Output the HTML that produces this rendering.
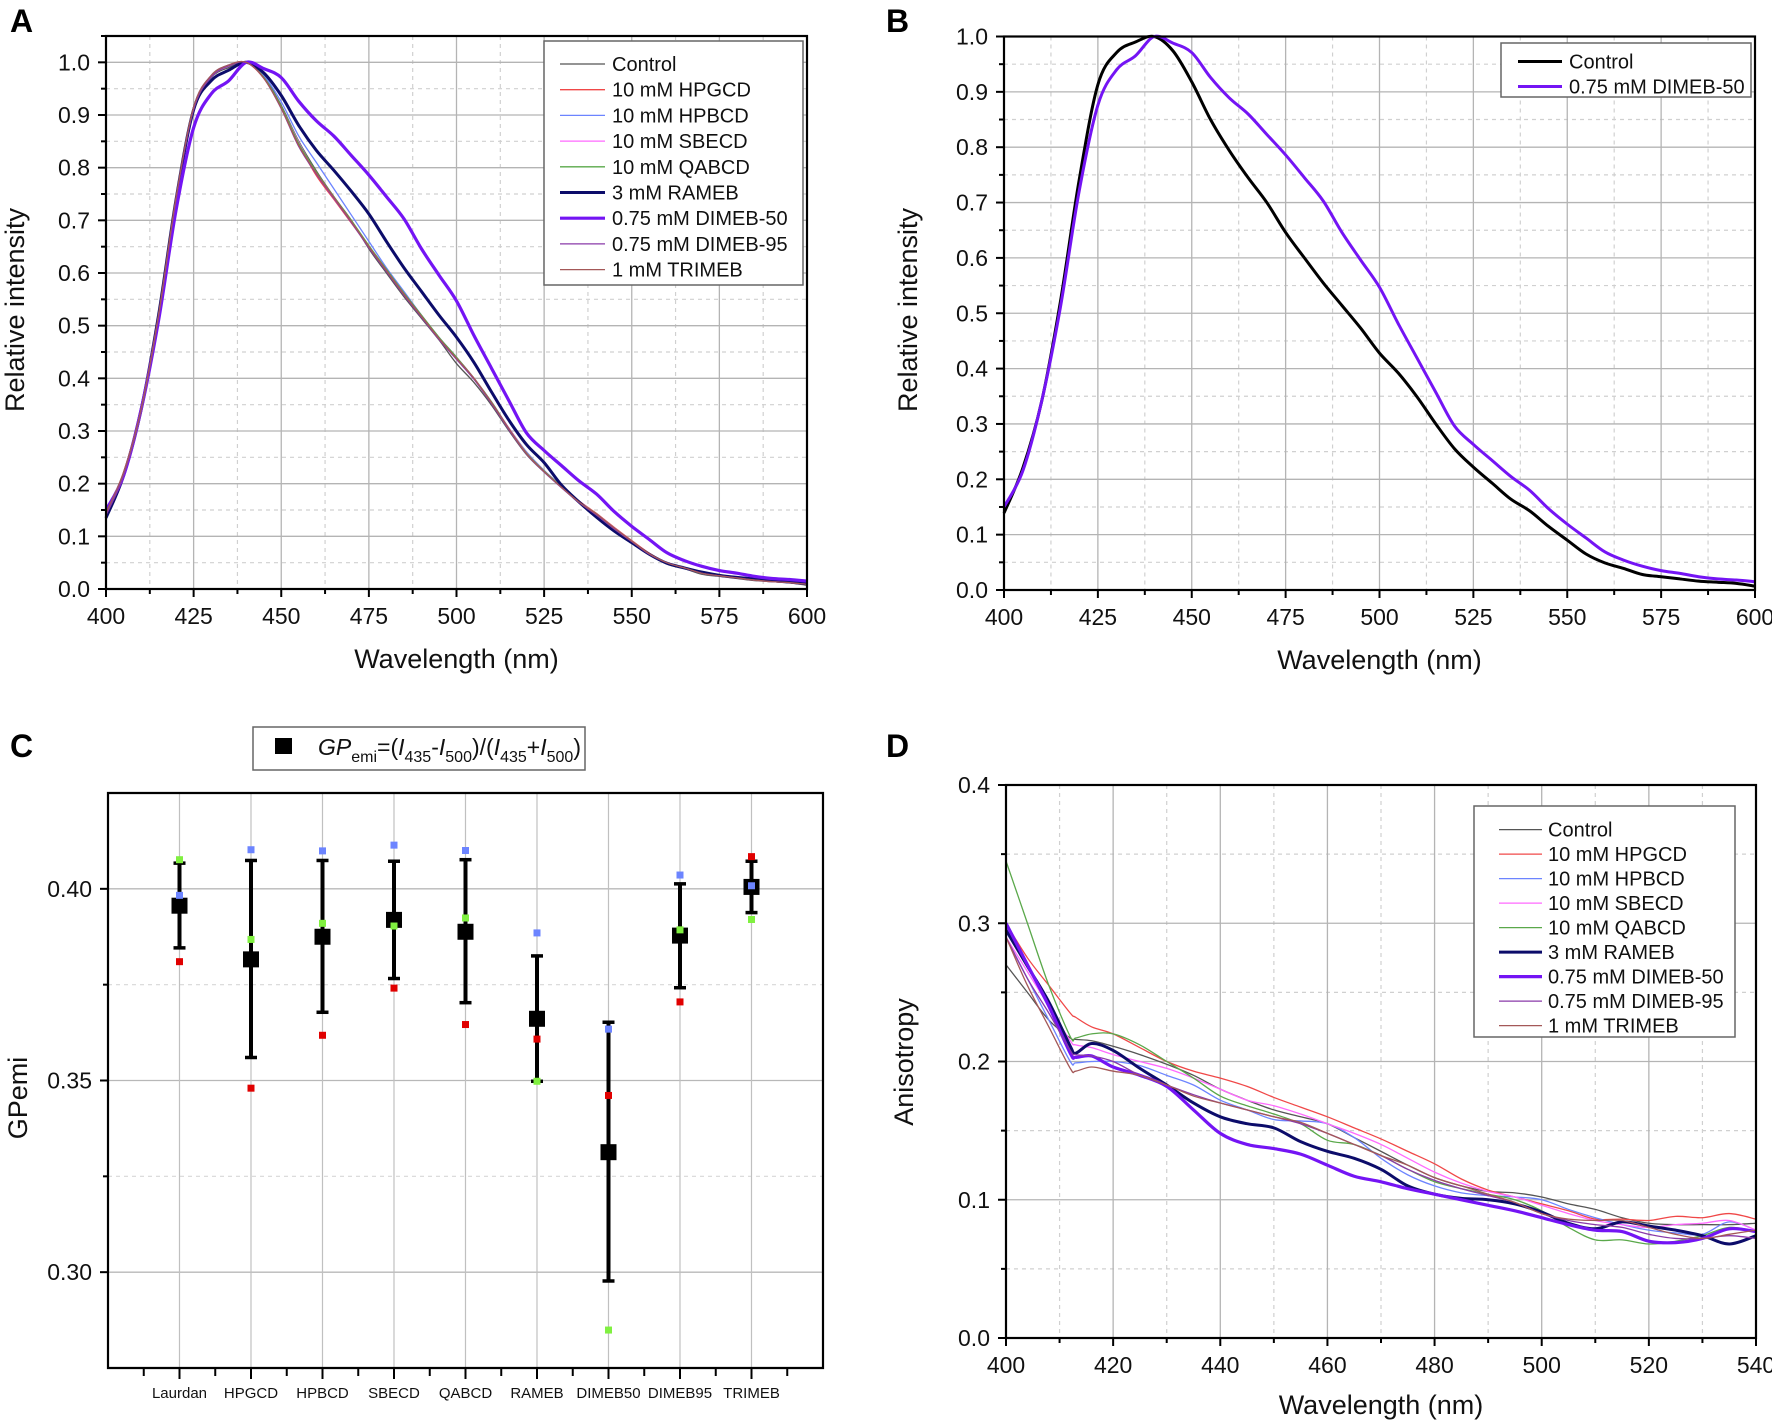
<!DOCTYPE html>
<html><head><meta charset="utf-8">
<style>
html,body{margin:0;padding:0;background:#fff;}
svg{display:block;font-family:"Liberation Sans",Arial,sans-serif;}
</style></head>
<body>
<svg id="fig" width="1772" height="1422" viewBox="0 0 1772 1422" xmlns="http://www.w3.org/2000/svg">
<rect x="0" y="0" width="1772" height="1422" fill="#fff"/>
<text x="10" y="32" font-size="32" font-weight="bold">A</text>
<text x="886" y="32" font-size="32" font-weight="bold">B</text>
<text x="10" y="757" font-size="32" font-weight="bold">C</text>
<text x="886" y="757" font-size="32" font-weight="bold">D</text>
</svg>
<script>
// ---------- Panel A/B spectra data ----------
const wl = [400,405,410,415,420,425,430,435,440,445,450,455,460,465,470,475,480,485,490,495,500,505,510,515,520,525,530,535,540,545,550,555,560,565,570,575,580,585,590,595,600];
const specControl = [.139,.22,.34,.52,.74,.913,.971,.99,1.0,.974,.918,.85,.794,.745,.70,.646,.60,.555,.514,.473,.428,.392,.349,.30,.255,.222,.193,.164,.143,.115,.09,.065,.049,.039,.028,.024,.02,.016,.014,.012,.007];
const specHPGCD = [.145,.22,.34,.52,.745,.915,.975,.995,1.0,.97,.915,.845,.785,.74,.695,.65,.605,.56,.518,.475,.44,.40,.355,.305,.26,.225,.195,.167,.143,.117,.092,.068,.05,.04,.03,.025,.021,.017,.014,.012,.009];
const specHPBCD = [.14,.22,.34,.52,.745,.915,.975,.995,1.0,.975,.925,.86,.81,.76,.71,.66,.61,.565,.52,.478,.44,.40,.355,.305,.26,.225,.195,.166,.142,.116,.091,.067,.05,.04,.03,.025,.021,.017,.014,.012,.009];
const specSBECD = [.14,.22,.34,.52,.745,.912,.972,.993,1.0,.972,.915,.848,.79,.742,.698,.65,.605,.56,.518,.476,.438,.40,.354,.305,.258,.224,.194,.165,.142,.116,.09,.066,.05,.04,.03,.025,.021,.017,.014,.012,.009];
const specQABCD = [.14,.22,.34,.52,.745,.914,.974,.994,1.0,.972,.916,.846,.792,.745,.70,.652,.607,.562,.52,.478,.44,.40,.355,.304,.258,.224,.194,.165,.142,.115,.09,.066,.05,.04,.03,.025,.021,.017,.014,.012,.009];
const specRAMEB = [.135,.215,.34,.52,.74,.91,.965,.985,1.0,.98,.937,.88,.833,.795,.755,.712,.66,.61,.565,.52,.478,.43,.374,.32,.274,.24,.197,.165,.136,.11,.088,.066,.049,.04,.032,.026,.022,.019,.016,.013,.01];
const specDIMEB50 = [.15,.215,.34,.51,.72,.876,.94,.965,1.0,.988,.971,.926,.889,.86,.823,.786,.745,.703,.646,.596,.547,.481,.419,.357,.296,.263,.234,.205,.18,.147,.119,.094,.069,.054,.043,.035,.03,.024,.02,.018,.015];
const specDIMEB95 = [.14,.215,.335,.515,.74,.91,.972,.993,1.0,.97,.912,.84,.788,.742,.696,.648,.603,.558,.516,.474,.436,.398,.352,.302,.256,.222,.192,.164,.14,.114,.09,.066,.05,.04,.03,.025,.021,.017,.014,.012,.009];
const specTRIMEB = [.145,.222,.342,.522,.745,.915,.975,.995,1.0,.97,.913,.842,.79,.744,.698,.65,.605,.56,.518,.476,.438,.40,.354,.304,.257,.223,.193,.165,.142,.116,.091,.067,.05,.04,.03,.025,.021,.017,.014,.012,.009];
const specXTicks = [400,425,450,475,500,525,550,575,600];
const specYTicks = [0,0.1,0.2,0.3,0.4,0.5,0.6,0.7,0.8,0.9,1.0];
// ---------- Panel D anisotropy data ----------
const anWl = [400,404,408,412,413,416,420,425,430,435,440,445,450,455,460,465,470,475,480,485,490,495,500,505,510,515,520,525,530,535,540];
const anControl = [.27,.25,.23,.217,.216,.215,.211,.205,.198,.19,.18,.172,.165,.16,.155,.145,.135,.125,.116,.11,.106,.105,.102,.097,.093,.087,.083,.082,.082,.082,.083];
const anHPGCD = [.30,.275,.255,.235,.232,.225,.22,.21,.2,.193,.188,.182,.174,.167,.16,.152,.144,.135,.126,.115,.107,.102,.097,.092,.086,.086,.085,.088,.087,.09,.086];
const anHPBCD = [.29,.26,.23,.2,.199,.2,.2,.197,.19,.183,.172,.165,.158,.157,.155,.145,.13,.118,.11,.105,.103,.102,.1,.093,.087,.082,.078,.076,.075,.084,.078];
const anSBECD = [.29,.265,.24,.215,.212,.21,.205,.2,.195,.188,.18,.172,.168,.162,.155,.148,.14,.13,.12,.112,.106,.102,.096,.09,.085,.082,.08,.082,.083,.085,.078];
const anQABCD = [.345,.3,.255,.218,.217,.22,.22,.212,.2,.188,.175,.168,.162,.155,.143,.14,.132,.122,.113,.108,.104,.1,.092,.08,.071,.071,.068,.07,.074,.08,.077];
const anRAMEB = [.295,.269,.243,.211,.206,.213,.208,.195,.183,.17,.16,.155,.152,.142,.135,.13,.122,.11,.104,.101,.1,.097,.091,.083,.079,.084,.081,.078,.074,.068,.074];
const anDIMEB50 = [.30,.27,.24,.206,.203,.204,.196,.19,.182,.165,.148,.14,.137,.133,.125,.117,.113,.108,.104,.1,.096,.092,.087,.082,.078,.077,.07,.069,.072,.079,.077];
const anDIMEB95 = [.29,.26,.235,.208,.205,.204,.2,.19,.183,.176,.17,.165,.16,.155,.148,.14,.132,.122,.114,.108,.103,.098,.09,.085,.082,.08,.075,.072,.072,.074,.072];
const anTRIMEB = [.29,.255,.225,.195,.193,.196,.193,.19,.183,.175,.17,.165,.16,.156,.148,.14,.132,.125,.116,.11,.104,.098,.09,.086,.085,.085,.08,.075,.072,.075,.078];
const anXTicks = [400,420,440,460,480,500,520,540];
const anYTicks = [0.0,0.1,0.2,0.3,0.4];
// ---------- Panel C GP data ----------
const gpCategories = ["Laurdan","HPGCD","HPBCD","SBECD","QABCD","RAMEB","DIMEB50","DIMEB95","TRIMEB"];
const gpMean = [0.3956,0.3816,0.3875,0.3919,0.3888,0.3661,0.3313,0.3878,0.4005];
const gpErrTop = [0.4067,0.4074,0.4074,0.4072,0.4076,0.3825,0.3652,0.4013,0.4072];
const gpErrBottom = [0.3846,0.3560,0.3678,0.3766,0.3703,0.3498,0.2977,0.3742,0.3938];
const gpRed = [0.381,0.348,0.3618,0.3741,0.3646,0.3608,0.3461,0.3705,0.4084];
const gpGreen = [0.4076,0.3868,0.391,0.3903,0.3924,0.3498,0.2849,0.3893,0.392];
const gpBlue = [0.3983,0.4102,0.4099,0.4114,0.410,0.3885,0.3634,0.4036,0.4008];
const gpYTicks = ["0.30","0.35","0.40"];

const NS = "http://www.w3.org/2000/svg";
const svg = document.getElementById("fig");
function mk(tag, attrs, parent, text){
  const e = document.createElementNS(NS, tag);
  for (const k in attrs) e.setAttribute(k, attrs[k]);
  if (text !== undefined) e.textContent = text;
  (parent || svg).appendChild(e);
  return e;
}
function smoothPath(pts){
  let d = "M" + pts[0][0].toFixed(2) + "," + pts[0][1].toFixed(2);
  for (let i = 0; i < pts.length - 1; i++){
    const p0 = pts[Math.max(0,i-1)], p1 = pts[i], p2 = pts[i+1], p3 = pts[Math.min(pts.length-1,i+2)];
    const c1x = p1[0] + (p2[0]-p0[0])/6, c1y = p1[1] + (p2[1]-p0[1])/6;
    const c2x = p2[0] - (p3[0]-p1[0])/6, c2y = p2[1] - (p3[1]-p1[1])/6;
    d += " C" + c1x.toFixed(2) + "," + c1y.toFixed(2) + " " + c2x.toFixed(2) + "," + c2y.toFixed(2) + " " + p2[0].toFixed(2) + "," + p2[1].toFixed(2);
  }
  return d;
}

function linePanel(cfg){
  const g = mk("g", {});
  
  
  const xs = v => cfg.L + (v - cfg.x0) / (cfg.x1 - cfg.x0) * (cfg.R - cfg.L);
  const ys = v => cfg.B - (v - cfg.y0) / (cfg.y1 - cfg.y0) * (cfg.B - cfg.T);
  for (let v = cfg.x0 + cfg.xMinor; v < cfg.x1; v += cfg.xMajor){
    const l = mk("line", {x1:xs(v), x2:xs(v), y1:cfg.T, y2:cfg.B, stroke:"#d0d0d0", "stroke-width":1.2, "stroke-dasharray":"4,4"}, g);
    
    
  }
  for (let v = cfg.y0 + cfg.yMinor; v < cfg.y1 - 1e-6; v += cfg.yMajor){
    const l = mk("line", {x1:cfg.L, x2:cfg.R, y1:ys(v), y2:ys(v), stroke:"#d0d0d0", "stroke-width":1.2, "stroke-dasharray":"4,4"}, g);
    
    
  }
  cfg.xTicks.forEach(v => {
    const l = mk("line", {x1:xs(v), x2:xs(v), y1:cfg.T, y2:cfg.B, stroke:"#b4b4b4", "stroke-width":1.3}, g);
    
    
    const t = mk("line", {x1:xs(v), x2:xs(v), y1:cfg.B, y2:cfg.B+8, stroke:"#000", "stroke-width":2}, g);
    
    
    const tx = mk("text", {x:xs(v), y:cfg.B+35, "font-size":23, "text-anchor":"middle", fill:"#111"}, g, String(v));
    
    
  });
  for (let v = cfg.x0 + cfg.xMinor; v < cfg.x1; v += cfg.xMajor){
    const t = mk("line", {x1:xs(v), x2:xs(v), y1:cfg.B, y2:cfg.B+5, stroke:"#000", "stroke-width":2}, g);
    
    
  }
  cfg.yTicks.forEach(v => {
    if (v > cfg.y0 && v < cfg.y1 - 1e-6){
      const l = mk("line", {x1:cfg.L, x2:cfg.R, y1:ys(v), y2:ys(v), stroke:"#b4b4b4", "stroke-width":1.3}, g);
      
      
    }
    const t = mk("line", {x1:cfg.L-8, x2:cfg.L, y1:ys(v), y2:ys(v), stroke:"#000", "stroke-width":2}, g);
    
    
    const tx = mk("text", {x:cfg.L-16, y:ys(v)+8, "font-size":23, "text-anchor":"end", fill:"#111"}, g, v.toFixed(1));
    
    
  });
  for (let v = cfg.y0 + cfg.yMinor; v < cfg.y1; v += cfg.yMajor){
    const t = mk("line", {x1:cfg.L-5, x2:cfg.L, y1:ys(v), y2:ys(v), stroke:"#000", "stroke-width":2}, g);
    
    
  }
  cfg.series.forEach(s => {
    const pts = s.y.map((v,i) => [xs(s.x[i]), ys(v)]);
    const p = mk("path", {d:smoothPath(pts), fill:"none", stroke:s.color, "stroke-width":s.w, "stroke-linejoin":"round"}, g);
    
    
  });
  const fr = mk("rect", {x:cfg.L, y:cfg.T, width:cfg.R-cfg.L, height:cfg.B-cfg.T, fill:"none", stroke:"#000", "stroke-width":2.2}, g);
  
  
  const xt = mk("text", {x:(cfg.L+cfg.R)/2, y:cfg.xTitleY, "font-size":27, "text-anchor":"middle", fill:"#111"}, g, cfg.xTitle);
  
  
  const yt = mk("text", {x:0, y:0, "font-size":27, "text-anchor":"middle", fill:"#111", transform:"translate(" + cfg.yTitleX + "," + cfg.yTitleY + ") rotate(-90)"}, g, cfg.yTitle);
  
  
  const lg = mk("g", {}, g);
  
  
  const lb = mk("rect", {x:cfg.leg.x, y:cfg.leg.y, width:cfg.leg.w, height:cfg.leg.h, fill:"#fff", stroke:"#666", "stroke-width":1.5}, lg);
  
  
  cfg.series.forEach((s, i) => {
    const yy = cfg.leg.first + i * cfg.leg.step;
    const ln = mk("line", {x1:cfg.leg.lx1, x2:cfg.leg.lx2, y1:yy, y2:yy, stroke:s.color, "stroke-width":s.w}, lg);
    
    
    const tx = mk("text", {x:cfg.leg.tx, y:yy+7, "font-size":20, fill:"#111"}, lg, s.label);
    
    
  });
}

const C = {ctrl:"#555555", hpg:"#f04848", hpb:"#6c84ff", sbe:"#ff6aff", qab:"#5aa84a", ram:"#0c0c6a", d50:"#7414f4", d95:"#8a3aa8", tri:"#a45858"};

linePanel({name:"panel-a-chart", L:106, R:807, T:36, B:589, x0:400, x1:600, y0:0, y1:1.05,
  xMajor:25, xMinor:12.5, yMajor:0.1, yMinor:0.05, xTicks:specXTicks, yTicks:specYTicks,
  xTitle:"Wavelength (nm)", xTitleY:668, yTitle:"Relative intensity", yTitleX:24, yTitleY:310,
  leg:{x:544, y:41, w:259, h:244, first:64, step:25.7, lx1:560, lx2:605, tx:612},
  series:[
    {key:"control", label:"Control", x:wl, y:specControl, color:C.ctrl, w:1.3},
    {key:"hpgcd", label:"10 mM HPGCD", x:wl, y:specHPGCD, color:C.hpg, w:1.3},
    {key:"hpbcd", label:"10 mM HPBCD", x:wl, y:specHPBCD, color:C.hpb, w:1.3},
    {key:"sbecd", label:"10 mM SBECD", x:wl, y:specSBECD, color:C.sbe, w:1.3},
    {key:"qabcd", label:"10 mM QABCD", x:wl, y:specQABCD, color:C.qab, w:1.3},
    {key:"rameb", label:"3 mM RAMEB", x:wl, y:specRAMEB, color:C.ram, w:3},
    {key:"dimeb50", label:"0.75 mM DIMEB-50", x:wl, y:specDIMEB50, color:C.d50, w:3.2},
    {key:"dimeb95", label:"0.75 mM DIMEB-95", x:wl, y:specDIMEB95, color:C.d95, w:1.3},
    {key:"trimeb", label:"1 mM TRIMEB", x:wl, y:specTRIMEB, color:C.tri, w:1.3}
  ]});

linePanel({name:"panel-b-chart", L:1004, R:1755, T:36.5, B:590, x0:400, x1:600, y0:0, y1:1.0,
  xMajor:25, xMinor:12.5, yMajor:0.1, yMinor:0.05, xTicks:specXTicks, yTicks:specYTicks,
  xTitle:"Wavelength (nm)", xTitleY:669, yTitle:"Relative intensity", yTitleX:917, yTitleY:310,
  leg:{x:1501, y:43, w:250, h:54, first:61.5, step:25, lx1:1518, lx2:1562, tx:1569},
  series:[
    {key:"control", label:"Control", x:wl, y:specControl, color:"#000", w:3},
    {key:"dimeb50", label:"0.75 mM DIMEB-50", x:wl, y:specDIMEB50, color:C.d50, w:3}
  ]});

linePanel({name:"panel-d-chart", L:1006, R:1756, T:785, B:1338, x0:400, x1:540, y0:0, y1:0.4,
  xMajor:20, xMinor:10, yMajor:0.1, yMinor:0.05, xTicks:anXTicks, yTicks:anYTicks,
  xTitle:"Wavelength (nm)", xTitleY:1414, yTitle:"Anisotropy", yTitleX:913, yTitleY:1062,
  leg:{x:1474, y:806, w:261, h:231, first:829.6, step:24.5, lx1:1499, lx2:1542, tx:1548},
  series:[
    {key:"control", label:"Control", x:anWl, y:anControl, color:C.ctrl, w:1.3},
    {key:"hpgcd", label:"10 mM HPGCD", x:anWl, y:anHPGCD, color:C.hpg, w:1.3},
    {key:"hpbcd", label:"10 mM HPBCD", x:anWl, y:anHPBCD, color:C.hpb, w:1.3},
    {key:"sbecd", label:"10 mM SBECD", x:anWl, y:anSBECD, color:C.sbe, w:1.3},
    {key:"qabcd", label:"10 mM QABCD", x:anWl, y:anQABCD, color:C.qab, w:1.3},
    {key:"rameb", label:"3 mM RAMEB", x:anWl, y:anRAMEB, color:C.ram, w:3},
    {key:"dimeb50", label:"0.75 mM DIMEB-50", x:anWl, y:anDIMEB50, color:C.d50, w:3.2},
    {key:"dimeb95", label:"0.75 mM DIMEB-95", x:anWl, y:anDIMEB95, color:C.d95, w:1.3},
    {key:"trimeb", label:"1 mM TRIMEB", x:anWl, y:anTRIMEB, color:C.tri, w:1.3}
  ]});

(function(){
  const L = 108, R = 823, T = 793, B = 1368, y0 = 0.275, y1 = 0.425;
  const xs = i => L + (i + 1) / 10 * (R - L);
  const ys = v => B - (v - y0) / (y1 - y0) * (B - T);
  const g = mk("g", {});
  
  
  [0.325, 0.375].forEach(v => {
    const l = mk("line", {x1:L, x2:R, y1:ys(v), y2:ys(v), stroke:"#d8d8d8", "stroke-width":1.2, "stroke-dasharray":"4,4"}, g);
    
    
    const t = mk("line", {x1:L-5, x2:L, y1:ys(v), y2:ys(v), stroke:"#000", "stroke-width":2}, g);
    
    
  });
  gpYTicks.forEach(s => {
    const v = parseFloat(s);
    const l = mk("line", {x1:L, x2:R, y1:ys(v), y2:ys(v), stroke:"#b8b8b8", "stroke-width":1.3}, g);
    
    
    const t = mk("line", {x1:L-8, x2:L, y1:ys(v), y2:ys(v), stroke:"#000", "stroke-width":2}, g);
    
    
    const tx = mk("text", {x:L-16, y:ys(v)+8, "font-size":23, "text-anchor":"end", fill:"#111"}, g, s);
    
    
  });
  for (let k = 1; k < 20; k++){
    const x = L + k / 20 * (R - L);
    const t = mk("line", {x1:x, x2:x, y1:B, y2:B + (k % 2 === 0 ? 11 : 8), stroke:"#000", "stroke-width":2}, g);
    
    
  }
  gpCategories.forEach((c, i) => {
    const x = xs(i);
    const l = mk("line", {x1:x, x2:x, y1:T, y2:B, stroke:"#c0c0c0", "stroke-width":1.2}, g);
    
    
    const tx = mk("text", {x:x, y:1398, "font-size":15, "text-anchor":"middle", fill:"#111"}, g, c);
    
    
  });
  gpCategories.forEach((c, i) => {
    const x = xs(i);
    const eb = mk("line", {x1:x, x2:x, y1:ys(gpErrTop[i]), y2:ys(gpErrBottom[i]), stroke:"#000", "stroke-width":4}, g);
    
    
    [gpErrTop[i], gpErrBottom[i]].forEach(v => {
      const cap = mk("line", {x1:x-6, x2:x+6, y1:ys(v), y2:ys(v), stroke:"#000", "stroke-width":3.5}, g);
      
      
    });
    const m = mk("rect", {x:x-8, y:ys(gpMean[i])-8, width:16, height:16, fill:"#000"}, g);
    
    
    [[gpRed, "#e00000", "replicate-red"], [gpGreen, "#80f040", "replicate-green"], [gpBlue, "#6c84ff", "replicate-blue"]].forEach(r => {
      const q = mk("rect", {x:x-3.5, y:ys(r[0][i])-3.5, width:7, height:7, fill:r[1]}, g);
      
      
    });
  });
  const fr = mk("path", {d:"M"+L+","+B+" L"+L+","+T+" L"+R+","+T+" L"+R+","+B+" Z", fill:"none", stroke:"#000", "stroke-width":2.2}, g);
  
  
  const yt = mk("text", {x:0, y:0, "font-size":27, "text-anchor":"middle", fill:"#111", transform:"translate(27,1098) rotate(-90)"}, g, "GPemi");
  
  
  const lg = mk("g", {}, g);
  
  
  const lb = mk("rect", {x:253, y:727, width:332, height:43, fill:"#fff", stroke:"#666", "stroke-width":1.5}, lg);
  
  
  const sq = mk("rect", {x:275, y:738, width:17, height:16, fill:"#000"}, lg);
  
  
  const t = mk("text", {x:318, y:755, "font-size":23, fill:"#111"}, lg);
  
  
  t.innerHTML = '<tspan font-style="italic">GP</tspan><tspan font-size="16" dy="7">emi</tspan><tspan dy="-7">=(</tspan><tspan font-style="italic">I</tspan><tspan font-size="16" dy="7">435</tspan><tspan dy="-7">-</tspan><tspan font-style="italic">I</tspan><tspan font-size="16" dy="7">500</tspan><tspan dy="-7">)/(</tspan><tspan font-style="italic">I</tspan><tspan font-size="16" dy="7">435</tspan><tspan dy="-7">+</tspan><tspan font-style="italic">I</tspan><tspan font-size="16" dy="7">500</tspan><tspan dy="-7">)</tspan>';
})();
</script>
</body></html>
